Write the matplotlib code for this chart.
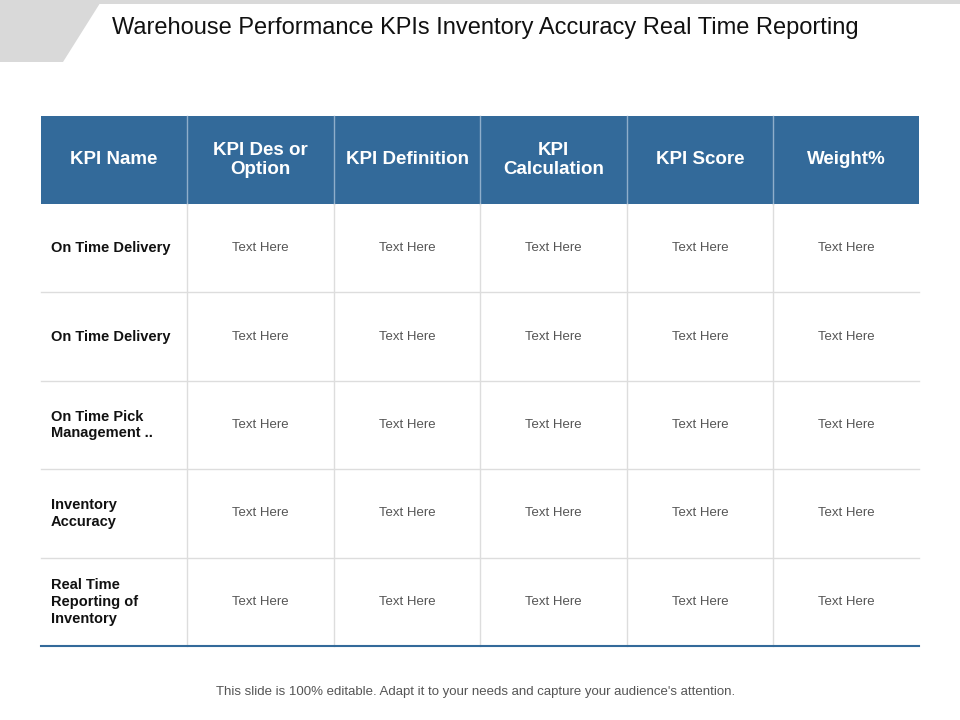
import matplotlib
matplotlib.use("Agg")
import matplotlib.pyplot as plt
from matplotlib.patches import Polygon, Rectangle

title = "Warehouse Performance KPIs Inventory Accuracy Real Time Reporting"
headers = ["KPI Name", "KPI Des or\nOption", "KPI Definition", "KPI\nCalculation", "KPI Score", "Weight%"]
row_names = ["On Time Delivery", "On Time Delivery", "On Time Pick\nManagement ..", "Inventory\nAccuracy",
             "Real Time\nReporting of\nInventory"]
cell_text = "Text Here"
footer = "This slide is 100% editable. Adapt it to your needs and capture your audience's attention."

plt.rcParams["font.family"] = "Liberation Sans"
fig = plt.figure(figsize=(9.6, 7.2), dpi=100)
ax = fig.add_axes([0, 0, 1, 1])
ax.set_xlim(0, 960); ax.set_ylim(720, 0); ax.axis("off")

ax.add_patch(Rectangle((0, 0), 960, 4, color="#D9D9D9", lw=0))
ax.add_patch(Polygon([(0, 0), (102, 0), (63, 62), (0, 62)], color="#D9D9D9", lw=0))
ax.text(485, 28, title, ha="center", va="center", fontsize=17, color="#111111")

xs = [41, 187, 334, 480, 627, 773, 919]
top, hh, rh = 116, 88, 88.4
blue = "#336A9A"
ax.add_patch(Rectangle((xs[0], top), xs[-1] - xs[0], hh, color=blue, lw=0))
for i, h in enumerate(headers):
    ax.text((xs[i] + xs[i + 1]) / 2, top + hh / 2, h, ha="center", va="center", fontsize=13.5,
            color="white", fontweight="bold", linespacing=1.2)
for x in xs[1:-1]:
    ax.plot([x, x], [top, top + hh], color="#8FAECB", lw=1)
y0 = top + hh
n = len(row_names)
for x in xs[1:-1]:
    ax.plot([x, x], [y0, y0 + n * rh], color="#DDDDDD", lw=1)
for r, name in enumerate(row_names):
    yc = y0 + r * rh + rh / 2
    ax.text(51, yc, name, ha="left", va="center", fontsize=10.5, fontweight="bold", color="#111111",
            linespacing=1.25)
    for c in range(1, 6):
        ax.text((xs[c] + xs[c + 1]) / 2, yc, cell_text, ha="center", va="center", fontsize=9.5, color="#555555")
    if r < n - 1:
        ax.plot([xs[0], xs[-1]], [y0 + (r + 1) * rh] * 2, color="#DDDDDD", lw=1)
ax.plot([xs[0], xs[-1]], [y0 + n * rh] * 2, color=blue, lw=1.5)
ax.text(476, 692, footer, ha="center", va="center", fontsize=9.5, color="#555555")
fig.savefig("out.png", dpi=100)
